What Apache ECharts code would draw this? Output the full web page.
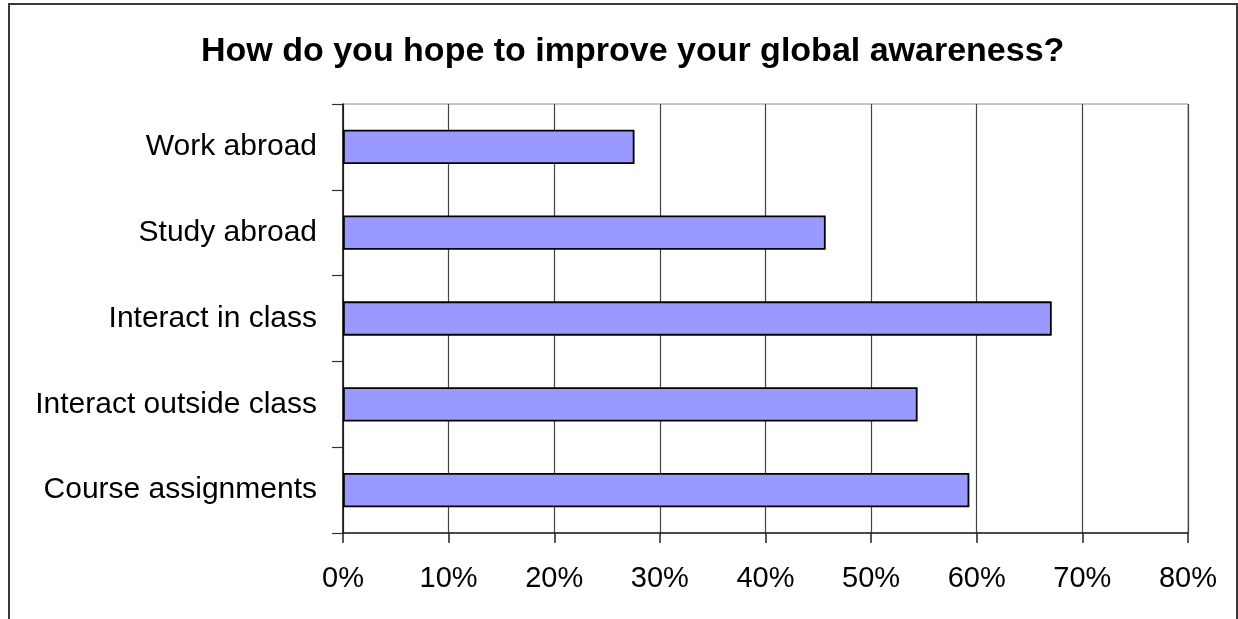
<!DOCTYPE html>
<html>
<head>
<meta charset="utf-8">
<script src="https://cdn.jsdelivr.net/npm/echarts@6/dist/echarts.min.js"></script>
<style>
  html, body { margin: 0; padding: 0; background: #fff; }
  #chart { width: 1238px; height: 619px; }
</style>
</head>
<body>
<div id="chart"></div>
<script>
// Survey answers, listed top to bottom as drawn
const categories = [
  'Work abroad',
  'Study abroad',
  'Interact in class',
  'Interact outside class',
  'Course assignments'
];
// Share of respondents choosing each option
const shares = [0.276, 0.457, 0.671, 0.544, 0.593];
// Percentage axis range and step
const axisMin = 0;
const axisMax = 0.8;
const axisStep = 0.1;

const FONT = '"Liberation Sans", Arial, sans-serif';

const chart = echarts.init(document.getElementById('chart'), null, { renderer: 'canvas' });

chart.setOption({
  backgroundColor: '#ffffff',
  animation: false,
  title: {
    text: 'How do you hope to improve your global awareness?',
    left: 196,
    top: 30,
    textStyle: { fontFamily: FONT, fontSize: 34, fontWeight: 'bold', color: '#000' }
  },
  graphic: [{
    type: 'rect',
    shape: { x: 9, y: 4, width: 1228, height: 700 },
    style: { fill: 'none', stroke: '#3a3a3a', lineWidth: 2 },
    silent: true,
    z: 0
  }],
  grid: {
    left: 343, right: 50, top: 104, bottom: 86,
    show: true,
    borderColor: '#888',
    borderWidth: 1,
    backgroundColor: 'transparent'
  },
  xAxis: {
    type: 'value',
    min: axisMin,
    max: axisMax,
    interval: axisStep,
    axisLine: { show: true, lineStyle: { color: '#222', width: 1.5 } },
    axisTick: { show: true, length: 10, lineStyle: { color: '#222', width: 1.5 } },
    splitLine: { show: true, lineStyle: { color: '#444', width: 1.2 } },
    axisLabel: {
      margin: 31,
      fontFamily: FONT,
      fontSize: 29,
      color: '#000',
      formatter: v => Math.round(v * 100) + '%'
    }
  },
  yAxis: {
    type: 'category',
    data: categories,
    inverse: true,
    axisLine: { show: true, lineStyle: { color: '#111', width: 1.5 } },
    axisTick: { show: true, length: 11, lineStyle: { color: '#333', width: 1.2 } },
    splitLine: { show: false },
    axisLabel: {
      margin: 26,
      fontFamily: FONT,
      fontSize: 30,
      color: '#000'
    }
  },
  series: [{
    type: 'bar',
    data: shares,
    barCategoryGap: '60%',
    itemStyle: { color: '#9999FF', borderColor: '#000', borderWidth: 1.8 }
  }]
});
</script>
</body>
</html>
